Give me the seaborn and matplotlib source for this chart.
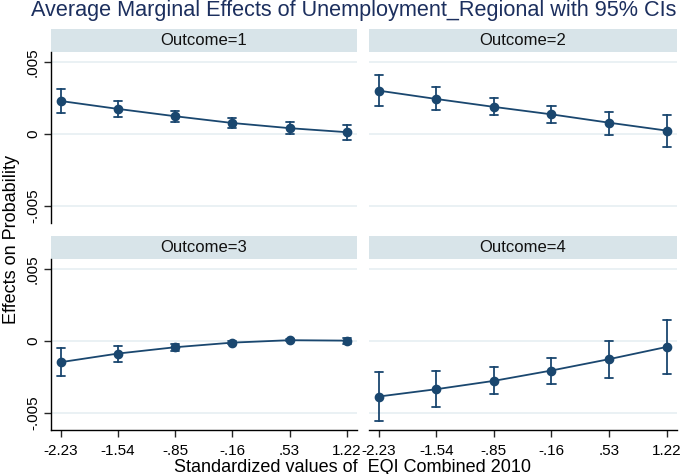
import pandas as pd
import seaborn as sns
import matplotlib.pyplot as plt
from matplotlib.patches import Rectangle

# values
eqi_labels = ['-2.23', '-1.54', '-.85', '-.16', '.53', '1.22']
outcomes = ['Outcome=1', 'Outcome=2', 'Outcome=3', 'Outcome=4']

est1 = [0.00229, 0.00174, 0.00123, 0.00076, 0.00040, 0.00012]
lo1 = [0.00148, 0.00116, 0.00083, 0.00040, -0.00002, -0.00040]
hi1 = [0.00313, 0.00227, 0.00162, 0.00113, 0.00085, 0.00065]

est2 = [0.00301, 0.00243, 0.00188, 0.00136, 0.00078, 0.00023]
lo2 = [0.00192, 0.00164, 0.00129, 0.00074, -0.00007, -0.00090]
hi2 = [0.00407, 0.00324, 0.00247, 0.00192, 0.00155, 0.00129]

est3 = [-0.00148, -0.00088, -0.00044, -0.00012, 0.00005, 0.00002]
lo3 = [-0.00243, -0.00144, -0.00069, -0.00020, -0.00003, -0.00021]
hi3 = [-0.00046, -0.00033, -0.00023, -0.00004, 0.00013, 0.00023]

est4 = [-0.00387, -0.00336, -0.00278, -0.00206, -0.00127, -0.00042]
lo4 = [-0.00556, -0.00460, -0.00370, -0.00301, -0.00257, -0.00231]
hi4 = [-0.00215, -0.00208, -0.00185, -0.00118, 0.00000, 0.00144]

ytick_vals = [-0.005, 0, 0.005]
ytick_labels = ['-.005', '0', '.005']

series = [(est1, lo1, hi1), (est2, lo2, hi2), (est3, lo3, hi3), (est4, lo4, hi4)]

# long table: three rows per point (lo, estimate, hi) so that
# median = estimate and min/max = confidence interval
rows = []
for name, (est, lo, hi) in zip(outcomes, series):
    for lab, e, l, h in zip(eqi_labels, est, lo, hi):
        for v in (l, e, h):
            rows.append({'outcome': name, 'eqi': lab, 'value': v})
df = pd.DataFrame(rows)

sns.set_theme(style='white')
plt.rcParams['font.family'] = ['Liberation Sans', 'DejaVu Sans']

navy = '#1a476f'
strip_col = '#d8e4e9'
grid_col = '#e8f0f3'

W, H = 685, 474
fig = plt.figure(figsize=(W / 100, H / 100), dpi=100)

# panel rectangles in pixels: left, top, right, bottom
boxes = [(51, 52, 357, 223), (369, 52, 677, 223),
         (51, 259, 357, 430), (369, 259, 677, 430)]
strip_h = 23

for i, (name, box) in enumerate(zip(outcomes, boxes)):
    l, t, r, b = box
    ax = fig.add_axes([l / W, 1 - b / H, (r - l) / W, (b - t) / H])
    sub = df[df['outcome'] == name]
    sns.pointplot(data=sub, x='eqi', y='value', order=eqi_labels,
                  estimator='median', errorbar=lambda v: (v.min(), v.max()),
                  color=navy, markers='o', capsize=0.14, linewidth=1.3,
                  markersize=6, err_kws={'linewidth': 1.3}, ax=ax)
    ax.set_xlim(-0.17, 5.18)
    ax.set_ylim(-0.0062, 0.0057)
    ax.set_yticks(ytick_vals)
    ax.set_yticklabels(ytick_labels)
    ax.set_xlabel('')
    ax.set_ylabel('')
    ax.yaxis.grid(True, color=grid_col, linewidth=1.3)
    ax.set_axisbelow(True)
    for s in ['top', 'right']:
        ax.spines[s].set_visible(False)

    left_col = i % 2 == 0
    bottom_row = i >= 2
    if left_col:
        ax.spines['left'].set_color('black')
        ax.spines['left'].set_linewidth(1.0)
        ax.tick_params(axis='y', left=True, length=5, width=1.0, pad=3,
                       labelsize=11, labelcolor='black')
        for lab in ax.get_yticklabels():
            lab.set_rotation(90)
            lab.set_va('center')
    else:
        ax.spines['left'].set_visible(False)
        ax.tick_params(axis='y', left=False, labelleft=False)
    if bottom_row:
        ax.spines['bottom'].set_color('black')
        ax.spines['bottom'].set_linewidth(1.0)
        ax.tick_params(axis='x', bottom=True, length=5, width=1.0, pad=5,
                       labelsize=11, labelcolor='black')
    else:
        ax.spines['bottom'].set_visible(False)
        ax.tick_params(axis='x', bottom=False, labelbottom=False)

    # facet header strip
    hfrac = strip_h / (b - t)
    ax.add_patch(Rectangle((0, 1), 1, hfrac, transform=ax.transAxes,
                           facecolor=strip_col, edgecolor='none', clip_on=False))
    ax.text(0.5, 1 + hfrac / 2, name, transform=ax.transAxes, ha='center',
            va='center', fontsize=12, color='#111111')

fig.text(31 / W, 1 - 16 / H,
         'Average Marginal Effects of Unemployment_Regional with 95% CIs',
         ha='left', va='baseline', fontsize=15.6, color='#1c2f5e')
fig.text(12 / W, 1 - 240 / H, 'Effects on Probability', rotation=90,
         ha='center', va='center', fontsize=13, color='black')
fig.text(353 / W, 2.5 / H, 'Standardized values of  EQI Combined 2010',
         ha='center', va='baseline', fontsize=13, color='black')

fig.savefig('out.png', dpi=100)
plt.close(fig)
